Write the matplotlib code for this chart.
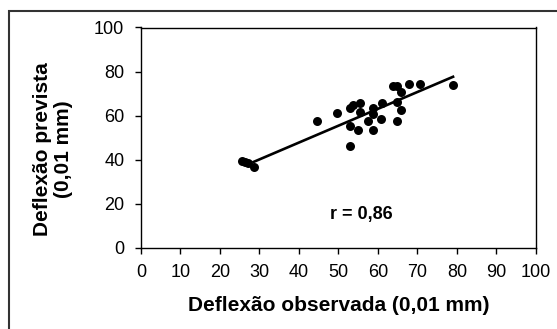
import matplotlib
matplotlib.use("Agg")
import matplotlib.pyplot as plt
from matplotlib.patches import Rectangle

plt.rcParams['font.family'] = ['Liberation Sans', 'DejaVu Sans']

# deflexões (0,01 mm)
observada = [25.5, 26.3, 27.2, 28.7, 44.6, 49.7, 52.8, 53.7, 55.5, 55.4,
             52.8, 54.9, 52.8, 57.5, 58.8, 58.8, 58.8, 60.9, 60.7, 63.8,
             64.7, 65.9, 64.7, 64.7, 65.9, 67.9, 70.6, 78.9]
prevista = [39.5, 39.0, 38.4, 36.4, 57.7, 61.2, 63.2, 64.7, 65.5, 61.4,
            55.0, 53.3, 46.2, 57.6, 63.6, 60.6, 53.5, 65.5, 58.3, 73.5,
            73.5, 70.5, 66.2, 57.6, 62.6, 74.1, 74.1, 73.9]

# linha de tendência
tend_x = [28.5, 79.0]
tend_y = [38.9, 77.6]

ticks_x = list(range(0, 101, 10))
ticks_y = list(range(0, 101, 20))

fig = plt.figure(figsize=(5.57, 3.29), dpi=100)
ax = fig.add_axes([141 / 557, 1 - 247.5 / 329, 395 / 557, 220 / 329])

ax.scatter(observada, prevista, s=42, color='black', zorder=3, linewidths=0)
ax.plot(tend_x, tend_y, color='black', lw=1.9)

ax.set_xlim(0, 100)
ax.set_ylim(0, 100)
ax.set_xticks(ticks_x)
ax.set_yticks(ticks_y)
ax.tick_params(labelsize=13, length=4, width=1, color='black')
ax.tick_params(axis='x', pad=8)
ax.tick_params(axis='y', pad=8)
for s in ax.spines.values():
    s.set_linewidth(1)
    s.set_color('black')

ax.set_xlabel('Deflexão observada (0,01 mm)', fontsize=15, fontweight='bold', labelpad=11)
ax.text(-0.223, 0.448, 'Deflexão prevista\n(0,01 mm)', transform=ax.transAxes,
        fontsize=15, fontweight='bold', rotation=90, ha='center', va='center',
        multialignment='center', linespacing=1.1)

ax.text(55.8, 15.2, 'r = 0,86', fontsize=13, fontweight='bold', ha='center', va='center')

# moldura externa
fig.patches.append(Rectangle((9 / 557, -0.1), 1.2, 1.1 - 10.7 / 329,
                             transform=fig.transFigure, fill=False,
                             edgecolor='#333333', lw=1.5))

fig.savefig('out.png', dpi=100)
